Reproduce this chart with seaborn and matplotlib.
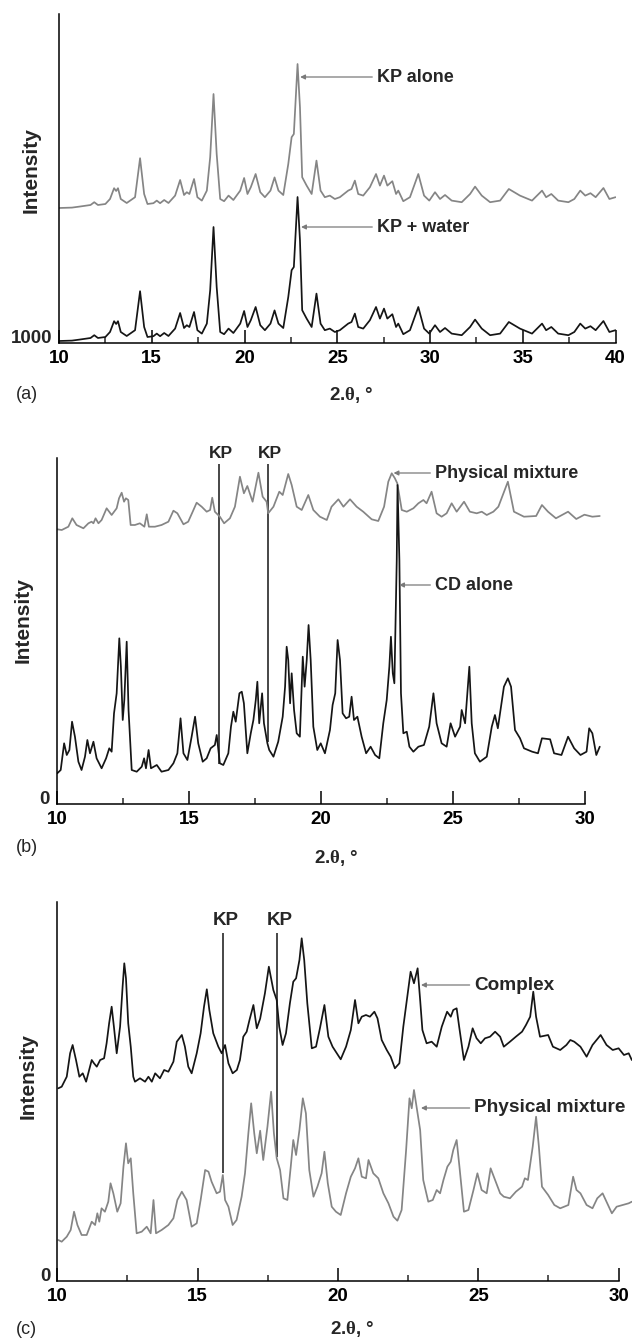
import matplotlib
matplotlib.use("Agg")
import pandas as pd
import matplotlib.pyplot as plt
import seaborn as sns

# ---- data (2-theta in degrees, intensity in counts) ----
# panel (a): ketoprofen alone and ketoprofen + water (same trace, stacked)
kp_alone = [
    (10.0, 1100), (10.7, 1120), (11.1, 1170), (11.7, 1250), (11.9, 1390), (12.1, 1250),
    (12.5, 1300), (12.75, 1550), (12.97, 2090), (13.08, 1950), (13.18, 2090), (13.33, 1550),
    (13.65, 1350), (14.1, 1640), (14.37, 3590), (14.59, 1800), (14.77, 1300), (15.09, 1340),
    (15.27, 1470), (15.45, 1340), (15.67, 1500), (15.9, 1350), (16.26, 1720), (16.53, 2500),
    (16.74, 1750), (16.89, 1890), (17.03, 1800), (17.28, 2550), (17.46, 1640), (17.7, 1470),
    (17.97, 1970), (18.15, 3640), (18.33, 6800), (18.5, 3800), (18.69, 1550), (18.9, 1440),
    (19.14, 1720), (19.4, 1500), (19.77, 1970), (19.98, 2600), (20.16, 1800), (20.34, 2140),
    (20.6, 2800), (20.85, 1890), (21.1, 1640), (21.4, 1970), (21.62, 2630), (21.83, 1970),
    (22.09, 1750), (22.36, 3300), (22.54, 4640), (22.66, 4800), (22.86, 8300), (22.99, 6140),
    (23.11, 2640), (23.35, 2220), (23.62, 1800), (23.88, 3470), (24.1, 1970), (24.33, 1640),
    (24.6, 1720), (24.87, 1550), (25.14, 1640), (25.59, 1970), (25.77, 2050), (25.95, 2470),
    (26.13, 1800), (26.4, 1720), (26.76, 2140), (27.09, 2800), (27.3, 2220), (27.52, 2720),
    (27.7, 2220), (27.97, 2440), (28.17, 1800), (28.29, 1970), (28.56, 1440), (28.92, 1640),
    (29.37, 2800), (29.68, 1720), (29.96, 1470), (30.27, 1890), (30.54, 1550), (30.81, 1750),
    (31.17, 1470), (31.71, 1390), (32.16, 1800), (32.43, 2170), (32.79, 1720), (33.24, 1390),
    (33.78, 1470), (34.25, 2050), (34.85, 1720), (35.5, 1470), (36.04, 1970), (36.26, 1640),
    (36.54, 1800), (36.91, 1470), (37.46, 1390), (37.78, 1550), (38.1, 1970), (38.37, 1720),
    (38.65, 1840), (38.93, 1640), (39.35, 2100), (39.67, 1550), (40.0, 1640),
]
kp_water = [
    (10.0, 1100), (10.7, 1120), (11.1, 1170), (11.7, 1250), (11.9, 1390), (12.1, 1250),
    (12.5, 1300), (12.75, 1550), (12.97, 2090), (13.08, 1950), (13.18, 2090), (13.33, 1550),
    (13.65, 1350), (14.1, 1640), (14.37, 3590), (14.59, 1800), (14.77, 1300), (15.09, 1340),
    (15.27, 1470), (15.45, 1340), (15.67, 1500), (15.9, 1350), (16.26, 1720), (16.53, 2500),
    (16.74, 1750), (16.89, 1890), (17.03, 1800), (17.28, 2550), (17.46, 1640), (17.7, 1470),
    (17.97, 1970), (18.15, 3640), (18.33, 6800), (18.5, 3800), (18.69, 1550), (18.9, 1440),
    (19.14, 1720), (19.4, 1500), (19.77, 1970), (19.98, 2600), (20.16, 1800), (20.34, 2140),
    (20.6, 2800), (20.85, 1890), (21.1, 1640), (21.4, 1970), (21.62, 2630), (21.83, 1970),
    (22.09, 1750), (22.36, 3300), (22.54, 4640), (22.66, 4800), (22.86, 8300), (22.99, 6140),
    (23.11, 2640), (23.35, 2220), (23.62, 1800), (23.88, 3470), (24.1, 1970), (24.33, 1640),
    (24.6, 1720), (24.87, 1550), (25.14, 1640), (25.59, 1970), (25.77, 2050), (25.95, 2470),
    (26.13, 1800), (26.4, 1720), (26.76, 2140), (27.09, 2800), (27.3, 2220), (27.52, 2720),
    (27.7, 2220), (27.97, 2440), (28.17, 1800), (28.29, 1970), (28.56, 1440), (28.92, 1640),
    (29.37, 2800), (29.68, 1720), (29.96, 1470), (30.27, 1890), (30.54, 1550), (30.81, 1750),
    (31.17, 1470), (31.71, 1390), (32.16, 1800), (32.43, 2170), (32.79, 1720), (33.24, 1390),
    (33.78, 1470), (34.25, 2050), (34.85, 1720), (35.5, 1470), (36.04, 1970), (36.26, 1640),
    (36.54, 1800), (36.91, 1470), (37.46, 1390), (37.78, 1550), (38.1, 1970), (38.37, 1720),
    (38.65, 1840), (38.93, 1640), (39.35, 2100), (39.67, 1550), (40.0, 1640),
]

# panel (b): physical mixture and cyclodextrin alone
mixture_b = [
    (10.01, 247), (10.18, 240), (10.43, 273), (10.58, 357), (10.74, 290), (11.0, 257),
    (11.19, 307), (11.31, 323), (11.38, 307), (11.46, 357), (11.57, 307), (11.69, 340),
    (11.88, 457), (12.07, 390), (12.26, 457), (12.35, 557), (12.45, 613), (12.54, 523),
    (12.61, 557), (12.7, 540), (12.79, 290), (12.95, 290), (13.14, 307), (13.31, 273),
    (13.4, 397), (13.48, 273), (13.71, 273), (13.96, 290), (14.22, 323), (14.41, 433),
    (14.56, 407), (14.79, 297), (14.97, 323), (15.14, 423), (15.29, 513), (15.48, 473),
    (15.67, 423), (15.8, 440), (15.88, 563), (15.98, 423), (16.17, 373), (16.33, 307),
    (16.55, 357), (16.74, 473), (16.93, 773), (17.08, 607), (17.21, 680), (17.41, 523),
    (17.63, 813), (17.79, 573), (17.94, 523), (18.0, 407), (18.2, 473), (18.42, 623),
    (18.55, 590), (18.76, 800), (18.89, 690), (19.08, 473), (19.27, 440), (19.52, 590),
    (19.71, 440), (19.96, 373), (20.22, 340), (20.4, 473), (20.66, 547), (20.85, 473),
    (21.1, 547), (21.35, 473), (21.6, 423), (21.92, 347), (22.17, 330), (22.39, 473),
    (22.55, 723), (22.68, 807), (22.8, 757), (22.89, 707), (23.06, 440), (23.25, 423),
    (23.5, 457), (23.69, 507), (23.88, 540), (24.0, 507), (24.19, 623), (24.38, 407),
    (24.57, 373), (24.76, 407), (24.95, 507), (25.14, 423), (25.42, 523), (25.64, 423),
    (25.9, 407), (26.09, 423), (26.28, 390), (26.53, 423), (26.72, 473), (27.08, 723),
    (27.31, 423), (27.69, 373), (28.15, 380), (28.37, 490), (28.6, 423), (28.9, 357),
    (29.36, 423), (29.67, 350), (29.98, 393), (30.28, 373), (30.56, 380),
]
cd_alone = [
    (10.01, 307), (10.14, 340), (10.27, 607), (10.37, 490), (10.47, 540), (10.57, 823),
    (10.68, 673), (10.81, 423), (10.93, 340), (11.06, 473), (11.15, 640), (11.25, 507),
    (11.38, 623), (11.5, 457), (11.69, 357), (11.86, 457), (11.98, 557), (12.07, 523),
    (12.16, 907), (12.26, 1107), (12.36, 1657), (12.42, 1373), (12.49, 840), (12.55, 1040),
    (12.64, 1623), (12.71, 940), (12.83, 340), (13.02, 323), (13.21, 373), (13.3, 457),
    (13.37, 357), (13.47, 540), (13.56, 357), (13.78, 390), (13.96, 323), (14.22, 340),
    (14.41, 407), (14.56, 507), (14.68, 857), (14.79, 507), (14.94, 440), (15.1, 673),
    (15.23, 873), (15.35, 607), (15.52, 423), (15.67, 457), (15.82, 557), (15.98, 590),
    (16.05, 690), (16.17, 407), (16.3, 390), (16.49, 507), (16.59, 773), (16.68, 923),
    (16.77, 823), (16.91, 1107), (17.0, 1123), (17.08, 1007), (17.21, 507), (17.34, 707),
    (17.44, 840), (17.53, 1040), (17.59, 1223), (17.66, 807), (17.77, 1107), (17.84, 807),
    (17.97, 607), (18.04, 540), (18.2, 473), (18.38, 623), (18.55, 873), (18.64, 1173),
    (18.7, 1573), (18.76, 1440), (18.83, 1007), (18.89, 1307), (18.98, 940), (19.08, 707),
    (19.2, 673), (19.31, 1473), (19.38, 1173), (19.46, 1440), (19.53, 1790), (19.61, 1440),
    (19.71, 773), (19.86, 540), (19.99, 607), (20.15, 507), (20.34, 740), (20.44, 990),
    (20.54, 1107), (20.63, 1640), (20.72, 1440), (20.82, 907), (20.95, 857), (21.07, 873),
    (21.16, 1073), (21.25, 840), (21.38, 873), (21.54, 673), (21.71, 507), (21.88, 573),
    (22.05, 490), (22.21, 457), (22.36, 807), (22.49, 1040), (22.59, 1373), (22.65, 1673),
    (22.72, 1307), (22.78, 1207), (22.87, 2440), (22.9, 3190), (22.97, 2440), (23.03, 1107),
    (23.12, 707), (23.25, 723), (23.35, 573), (23.5, 523), (23.69, 573), (23.9, 590),
    (24.1, 773), (24.26, 1107), (24.38, 807), (24.57, 607), (24.76, 573), (24.91, 807),
    (25.08, 673), (25.27, 773), (25.33, 940), (25.46, 807), (25.62, 1373), (25.71, 807),
    (25.83, 507), (26.02, 423), (26.28, 473), (26.47, 773), (26.59, 890), (26.7, 757),
    (26.93, 1173), (27.08, 1257), (27.2, 1173), (27.35, 740), (27.54, 657), (27.69, 557),
    (28.0, 523), (28.22, 507), (28.37, 657), (28.68, 647), (28.83, 507), (29.11, 490),
    (29.36, 673), (29.59, 557), (29.83, 490), (30.06, 523), (30.16, 757), (30.28, 707),
    (30.43, 490), (30.56, 573),
]

# panel (c): complex and physical mixture
complex_c = [
    (10.04, 424), (10.16, 440), (10.34, 540), (10.46, 774), (10.55, 857), (10.67, 707),
    (10.79, 540), (10.91, 574), (11.03, 490), (11.14, 607), (11.23, 707), (11.31, 674),
    (11.41, 640), (11.53, 707), (11.67, 724), (11.76, 874), (11.85, 1074), (11.94, 1240),
    (12.02, 1040), (12.12, 774), (12.24, 1040), (12.33, 1440), (12.39, 1674), (12.45, 1524),
    (12.53, 1074), (12.62, 840), (12.71, 540), (12.77, 490), (12.95, 524), (13.13, 490),
    (13.25, 540), (13.37, 490), (13.49, 574), (13.66, 524), (13.81, 607), (13.96, 590),
    (14.14, 690), (14.26, 890), (14.44, 957), (14.55, 840), (14.67, 640), (14.79, 574),
    (14.97, 774), (15.11, 974), (15.23, 1240), (15.33, 1414), (15.42, 1207), (15.56, 974),
    (15.74, 840), (15.86, 774), (15.98, 857), (16.1, 674), (16.25, 574), (16.4, 607),
    (16.51, 707), (16.63, 940), (16.75, 990), (16.85, 1107), (16.99, 1257), (17.11, 1024),
    (17.23, 1120), (17.4, 1374), (17.54, 1640), (17.7, 1407), (17.82, 1307), (17.91, 1040),
    (18.03, 857), (18.15, 974), (18.29, 1274), (18.41, 1490), (18.51, 1524), (18.63, 1707),
    (18.71, 1924), (18.8, 1707), (18.91, 1274), (19.07, 824), (19.22, 840), (19.36, 1024),
    (19.52, 1257), (19.66, 940), (19.81, 840), (19.96, 774), (20.1, 714), (20.29, 840),
    (20.46, 1007), (20.61, 1307), (20.73, 1074), (20.85, 1140), (21.0, 1157), (21.14, 1140),
    (21.3, 1190), (21.41, 1124), (21.56, 907), (21.74, 807), (21.88, 740), (22.03, 624),
    (22.19, 674), (22.33, 1040), (22.49, 1374), (22.59, 1590), (22.71, 1474), (22.84, 1624),
    (22.93, 1307), (23.01, 1007), (23.16, 874), (23.34, 890), (23.52, 840), (23.7, 1040),
    (23.89, 1190), (24.02, 1140), (24.11, 1207), (24.23, 1224), (24.32, 1040), (24.49, 707),
    (24.65, 840), (24.8, 1024), (24.94, 924), (25.09, 874), (25.24, 924), (25.42, 940),
    (25.6, 990), (25.78, 940), (25.91, 840), (26.13, 890), (26.34, 940), (26.56, 990),
    (26.7, 1057), (26.85, 1140), (26.96, 1390), (27.06, 1140), (27.2, 940), (27.49, 957),
    (27.66, 840), (27.92, 807), (28.14, 857), (28.28, 907), (28.42, 890), (28.64, 840),
    (28.86, 740), (29.07, 857), (29.36, 957), (29.57, 857), (29.79, 807), (30.0, 824),
    (30.19, 757), (30.36, 774), (30.47, 707),
]
mixture_c = [
    (10.04, 407), (10.16, 390), (10.34, 440), (10.48, 507), (10.6, 690), (10.72, 557),
    (10.87, 457), (11.05, 457), (11.23, 590), (11.35, 557), (11.43, 674), (11.5, 590),
    (11.58, 724), (11.7, 690), (11.82, 790), (11.9, 974), (12.0, 874), (12.14, 690),
    (12.26, 774), (12.36, 1140), (12.45, 1374), (12.53, 1174), (12.62, 1224), (12.71, 874),
    (12.83, 474), (13.01, 490), (13.19, 540), (13.33, 474), (13.43, 807), (13.52, 474),
    (13.72, 507), (13.96, 557), (14.14, 624), (14.28, 807), (14.44, 890), (14.61, 807),
    (14.79, 540), (14.97, 574), (15.11, 807), (15.27, 1107), (15.39, 1090), (15.5, 990),
    (15.68, 874), (15.8, 890), (15.9, 1057), (15.98, 807), (16.1, 740), (16.25, 557),
    (16.39, 607), (16.57, 840), (16.69, 1074), (16.81, 1474), (16.91, 1774), (17.02, 1474),
    (17.11, 1274), (17.23, 1500), (17.34, 1207), (17.49, 1540), (17.62, 1890), (17.72, 1474),
    (17.82, 1224), (17.94, 1107), (18.06, 824), (18.2, 807), (18.32, 1140), (18.41, 1407),
    (18.51, 1257), (18.63, 1507), (18.75, 1824), (18.86, 1674), (18.98, 1107), (19.13, 840),
    (19.27, 940), (19.42, 1074), (19.52, 1290), (19.64, 974), (19.78, 740), (19.93, 690),
    (20.1, 657), (20.29, 874), (20.46, 1040), (20.61, 1124), (20.73, 1224), (20.85, 1040),
    (21.0, 1024), (21.09, 1207), (21.26, 1074), (21.44, 1024), (21.62, 874), (21.8, 774),
    (21.98, 640), (22.12, 600), (22.27, 707), (22.43, 1307), (22.55, 1824), (22.63, 1724),
    (22.71, 1907), (22.81, 1724), (22.93, 1507), (23.04, 1007), (23.22, 790), (23.38, 807),
    (23.52, 907), (23.64, 874), (23.76, 1007), (23.9, 1140), (24.02, 1190), (24.11, 1307),
    (24.23, 1407), (24.33, 1140), (24.49, 690), (24.65, 707), (24.83, 907), (24.97, 1074),
    (25.12, 907), (25.3, 874), (25.44, 1124), (25.6, 1007), (25.78, 874), (25.91, 840),
    (26.13, 824), (26.34, 890), (26.56, 940), (26.66, 1024), (26.77, 1007), (26.94, 1340),
    (27.06, 1640), (27.16, 1340), (27.27, 940), (27.49, 857), (27.71, 757), (27.92, 724),
    (28.21, 757), (28.38, 1040), (28.5, 907), (28.64, 874), (28.86, 757), (29.07, 724),
    (29.24, 824), (29.43, 874), (29.57, 790), (29.76, 674), (29.93, 740), (30.15, 757),
    (30.36, 774), (30.47, 790),
]

# reflections of ketoprofen marked in (b) and (c)
kp_lines_b = [16.14, 18.0]
kp_lines_c = [15.92, 17.84]

# ---- style ----
sns.set_style("ticks")
plt.rcParams["font.family"] = ["Liberation Sans", "DejaVu Sans"]
plt.rcParams["font.weight"] = "bold"
plt.rcParams["mathtext.fontset"] = "custom"
plt.rcParams["mathtext.rm"] = "Liberation Serif"

GRAY = "#858585"
BLACK = "#151515"
ARROW = "#7a7a7a"

W, H = 632, 1342
fig = plt.figure(figsize=(W / 100, H / 100), dpi=100)


def px_rect(left, right, top, bottom):
    return [left / W, 1 - bottom / H, (right - left) / W, (bottom - top) / H]


def to_df(pairs, shift=0):
    df = pd.DataFrame(pairs, columns=["two_theta", "intensity"])
    df["intensity"] = df["intensity"] + shift
    return df


def setup_axes(rect, xlim, ylim, spine_end, ylab):
    ax = fig.add_axes(rect)
    ax.set_xlim(*xlim)
    ax.set_ylim(*ylim)
    sns.despine(ax=ax)
    for s in ["left", "bottom"]:
        ax.spines[s].set_linewidth(1.1)
        ax.spines[s].set_color("black")
    ax.spines["bottom"].set_bounds(xlim[0], spine_end)
    ax.set_xticks(list(range(int(xlim[0]), int(spine_end) + 1, 5)))
    ax.set_xticks([t + 2.5 for t in range(int(xlim[0]), int(spine_end), 5)], minor=True)
    ax.tick_params(axis="x", which="major", direction="in", length=9.5, width=1.1,
                   labelsize=13.5, pad=5, colors="black")
    ax.tick_params(axis="x", which="minor", direction="in", length=4.5, width=1.1)
    ax.set_yticks([ylim[0]])
    ax.set_yticklabels([ylab])
    ax.tick_params(axis="y", length=0, labelsize=13.5, pad=5)
    for t in ax.get_yticklabels():
        t.set_va("baseline")
    return ax


def curve(ax, df, color):
    sns.lineplot(data=df, x="two_theta", y="intensity", ax=ax, color=color,
                 lw=1.25, estimator=None, sort=False)
    ax.set_xlabel("")
    ax.set_ylabel("")


def pointer(ax, x_tip, x_text, y, text, size=13):
    ax.annotate(text, xy=(x_tip, y), xytext=(x_text, y), ha="left", va="center",
                fontsize=size, fontweight="bold", annotation_clip=False,
                arrowprops=dict(arrowstyle="-|>", color=ARROW, lw=0.9,
                                mutation_scale=7, shrinkA=1, shrinkB=0))


# ---- panel (a) ----
ax_a = setup_axes(px_rect(59, 615.5, 14, 343), (10, 40), (1000, 17450), 40, "1000")
curve(ax_a, to_df(kp_alone, 6650), GRAY)
curve(ax_a, to_df(kp_water), BLACK)
pointer(ax_a, 23.0, 27.14, 14300, "KP alone")
pointer(ax_a, 23.05, 27.14, 6800, "KP + water")

# ---- panel (b) ----
ax_b = setup_axes(px_rect(57, 600.8, 458, 804), (10, 30.6), (0, 3460), 30, "0")
for x, ybot in zip(kp_lines_b, [400, 620]):
    ax_b.vlines(x, ybot, 3400, color=BLACK, lw=1.1)
    ax_b.text(x + 0.08, 3510, "KP", ha="center", va="center", fontsize=12.5,
              fontweight="bold", clip_on=False)
curve(ax_b, to_df(mixture_b, 2500), GRAY)
curve(ax_b, to_df(cd_alone), BLACK)
pointer(ax_b, 22.75, 24.32, 3310, "Physical mixture")
pointer(ax_b, 22.96, 24.32, 2190, "CD alone")

# ---- panel (c) ----
ax_c = setup_axes(px_rect(57.2, 631.8, 901.7, 1280.7), (10, 30.47), (0, 3790), 30, "0")
for x, ybot in zip(kp_lines_c, [1077, 1240]):
    ax_c.vlines(x, ybot, 3477, color=BLACK, lw=1.1)
    ax_c.text(x + 0.1, 3607, "KP", ha="center", va="center", fontsize=13.5,
              fontweight="bold", clip_on=False)
curve(ax_c, to_df(complex_c, 1500), BLACK)
curve(ax_c, to_df(mixture_c), GRAY)
pointer(ax_c, 22.96, 24.86, 2957, "Complex", size=13.7)
pointer(ax_c, 22.96, 24.86, 1727, "Physical mixture", size=13.7)

# ---- shared texts ----
xlab = "2.$\\mathrm{\\theta}$, °"
for (lx, ly, letter, ix, iy, tx, ty) in [
    (351, 395, "(a)", 31, 170, 27, 395),
    (336, 858, "(b)", 23, 620, 27, 848),
    (352, 1329, "(c)", 28, 1076, 26, 1330),
]:
    fig.text(lx / W, 1 - ly / H, xlab, ha="center", va="center", fontsize=13.5,
             fontweight="bold")
    fig.text(ix / W, 1 - iy / H, "Intensity", ha="center", va="center", rotation=90,
             fontsize=15, fontweight="bold")
    fig.text(tx / W, 1 - ty / H, letter, ha="center", va="center", fontsize=13,
             fontweight="normal")

fig.savefig("out.png", dpi=100)
